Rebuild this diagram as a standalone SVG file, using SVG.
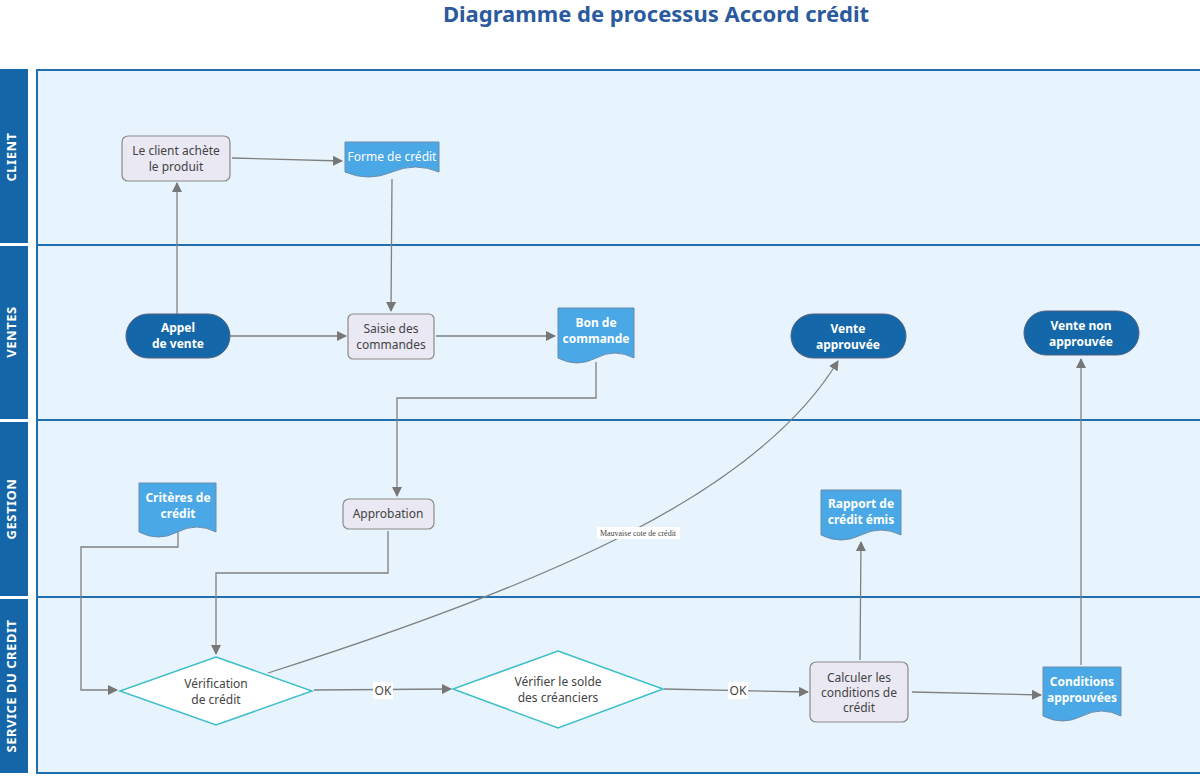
<svg xmlns="http://www.w3.org/2000/svg" width="1200" height="780" viewBox="0 0 1200 780">
<defs>
<marker id="arr" viewBox="0 0 10 10" refX="9" refY="5" markerWidth="10" markerHeight="10" markerUnits="userSpaceOnUse" orient="auto">
<path d="M0,0 L10,5 L0,10 Z" fill="#777"/>
</marker>
<style>
.lane{fill:#e7f4fd;stroke:#1f6fb0;stroke-width:2}
.hdr{fill:#1466a8}
.hdrt{font-family:"Noto Sans","Open Sans",sans-serif;font-size:13px;font-weight:bold;fill:#fff;text-anchor:middle;letter-spacing:0.5px}
.proc{fill:#e9e8f3;stroke:#8a8a8a;stroke-width:1.2}
.pill{fill:#1467a8;stroke:#55607a;stroke-width:1}
.doc{fill:#4aa8e6;stroke:#6b8bab;stroke-width:1}
.dia{fill:#fff;stroke:#3dbfcc;stroke-width:1.5}
.t{font-family:"Noto Sans","Open Sans",sans-serif;font-size:12px;fill:#444;text-anchor:middle}
.tw{font-family:"Noto Sans","Open Sans",sans-serif;font-size:12px;fill:#fff;text-anchor:middle}
.tb{font-family:"Noto Sans","Open Sans",sans-serif;font-size:12px;fill:#fff;text-anchor:middle;font-weight:bold}
.c{fill:none;stroke:#808080;stroke-width:1.3;marker-end:url(#arr)}
.lbl{fill:#fff}
</style>
</defs>
<text x="656" y="22" font-family="Noto Sans, Open Sans, sans-serif" font-size="22" font-weight="bold" fill="#2b5a9e" text-anchor="middle">Diagramme de processus Accord crédit</text>

<g id="lanes">
<rect class="lane" x="37" y="70" width="1170" height="703"/>
<line x1="37" y1="245" x2="1200" y2="245" stroke="#1f6fb0" stroke-width="2"/>
<line x1="37" y1="420" x2="1200" y2="420" stroke="#1f6fb0" stroke-width="2"/>
<line x1="37" y1="597" x2="1200" y2="597" stroke="#1f6fb0" stroke-width="2"/>
<rect class="hdr" x="0" y="69" width="28" height="174"/>
<rect class="hdr" x="0" y="246" width="28" height="173"/>
<rect class="hdr" x="0" y="422" width="28" height="174"/>
<rect class="hdr" x="0" y="599" width="28" height="174"/>
<text class="hdrt" transform="translate(16,157) rotate(-90)">CLIENT</text>
<text class="hdrt" transform="translate(16,332) rotate(-90)">VENTES</text>
<text class="hdrt" transform="translate(16,509) rotate(-90)">GESTION</text>
<text class="hdrt" transform="translate(16,686) rotate(-90)">SERVICE DU CREDIT</text>
</g>

<g id="connectors">
<path class="c" d="M177,314 L177,183"/>
<path class="c" d="M232,158 L342,161"/>
<path class="c" d="M392,179 L391,311"/>
<path class="c" d="M230,336 L346,336"/>
<path class="c" d="M436,336 L555,336"/>
<path class="c" d="M596,362 L596,398 L397,398 L397,496"/>
<path class="c" d="M388,531 L388,573 L216,573 L216,654"/>
<path class="c" d="M178,532 L178,547 L81,547 L81,690 L117,690"/>
<path class="c" d="M268,673 C560,580 760,490 838,361"/>
<path class="c" d="M314,690 L451,689"/>
<path class="c" d="M664,689 L808,692"/>
<path class="c" d="M860,660 L861,542"/>
<path class="c" d="M912,692 L1041,695"/>
<path class="c" d="M1081,665 L1081,359"/>
<rect class="lbl" x="597" y="527" width="83" height="12"/>
<text x="638" y="536" font-family="Liberation Serif, serif" font-size="8" fill="#444" text-anchor="middle">Mauvaise cote de crédit</text>
<rect class="lbl" x="373" y="682" width="20" height="17"/>
<text class="t" x="383" y="695">OK</text>
<rect class="lbl" x="728" y="682" width="20" height="17"/>
<text class="t" x="738" y="695">OK</text>
</g>

<g id="n_client">
<rect class="proc" x="122" y="136" width="108" height="45" rx="6"/>
<text class="t" x="176" y="155">Le client achète</text>
<text class="t" x="176" y="171">le produit</text>
</g>
<g id="n_forme">
<path class="doc" d="M345,142 H439 V172 Q415.5,162 392,172 T345,172 Z"/>
<text class="tw" x="392" y="161">Forme de crédit</text>
</g>
<g id="n_appel">
<rect class="pill" x="126" y="314" width="104" height="44" rx="22"/>
<text class="tb" x="178" y="332">Appel</text>
<text class="tb" x="178" y="348">de vente</text>
</g>
<g id="n_saisie">
<rect class="proc" x="348" y="314" width="86" height="45" rx="5"/>
<text class="t" x="391" y="333">Saisie des</text>
<text class="t" x="391" y="349">commandes</text>
</g>
<g id="n_bon">
<path class="doc" d="M558,308 H634 V358 Q615,348 596,358 T558,358 Z"/>
<text class="tb" x="596" y="327">Bon de</text>
<text class="tb" x="596" y="343">commande</text>
</g>
<g id="n_vente_ok">
<rect class="pill" x="791" y="314" width="115" height="44" rx="22"/>
<text class="tb" x="848" y="333">Vente</text>
<text class="tb" x="848" y="349">approuvée</text>
</g>
<g id="n_vente_non">
<rect class="pill" x="1024" y="311" width="115" height="44" rx="22"/>
<text class="tb" x="1081" y="330">Vente non</text>
<text class="tb" x="1081" y="346">approuvée</text>
</g>
<g id="n_criteres">
<path class="doc" d="M139,483 H216 V532 Q196.75,522 177.5,532 T139,532 Z"/>
<text class="tb" x="178" y="502">Critères de</text>
<text class="tb" x="178" y="518">crédit</text>
</g>
<g id="n_approbation">
<rect class="proc" x="343" y="499" width="91" height="30" rx="6"/>
<text class="t" x="388" y="518">Approbation</text>
</g>
<g id="n_rapport">
<path class="doc" d="M821,490 H901 V535 Q881,525 861,535 T821,535 Z"/>
<text class="tb" x="861" y="508">Rapport de</text>
<text class="tb" x="861" y="524">crédit émis</text>
</g>
<g id="n_verif">
<polygon class="dia" points="216,657 312,691 216,725 120,691"/>
<text class="t" x="216" y="688">Vérification</text>
<text class="t" x="216" y="704">de crédit</text>
</g>
<g id="n_solde">
<polygon class="dia" points="558,651 663,689 558,728 453,689"/>
<text class="t" x="558" y="686">Vérifier le solde</text>
<text class="t" x="558" y="702">des créanciers</text>
</g>
<g id="n_calculer">
<rect class="proc" x="810" y="662" width="98" height="60" rx="6"/>
<text class="t" x="859" y="682">Calculer les</text>
<text class="t" x="859" y="697">conditions de</text>
<text class="t" x="859" y="712">crédit</text>
</g>
<g id="n_conditions">
<path class="doc" d="M1043,667 H1121 V716 Q1101.5,706 1082,716 T1043,716 Z"/>
<text class="tb" x="1082" y="686">Conditions</text>
<text class="tb" x="1082" y="702">approuvées</text>
</g>
</svg>
